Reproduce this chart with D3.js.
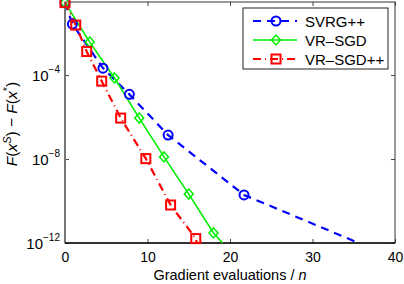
<!DOCTYPE html>
<html>
<head>
<meta charset="utf-8">
<script src="https://cdn.jsdelivr.net/npm/d3@7"></script>
<style>
  body { margin: 0; background: #fff; }
  svg { display: block; font-family: "Liberation Sans", Arial, sans-serif; }
</style>
</head>
<body>
<svg id="chart" width="404" height="284"></svg>
<script>
// gradient evaluations / n and log10 of F(x^s) - F(x*)
var svrgX = [0, 0.9, 4.6, 7.8, 12.5, 21.7, 35.6];
var svrgY = [-0.55, -1.57, -3.67, -4.92, -6.86, -9.71, -12];
var svrgMarks = [0, 1, 2, 3, 4, 5];

var vrsgdX = [0, 3, 6, 9, 12, 15, 18, 19.1];
var vrsgdY = [-0.55, -2.43, -4.14, -6.05, -7.9, -9.67, -11.52, -12];
var vrsgdMarks = [0, 1, 2, 3, 4, 5, 6];

var vrppX = [0, 1.3, 2.63, 4.45, 6.75, 9.8, 12.8, 15.85, 16.0];
var vrppY = [-0.55, -1.62, -2.88, -4.29, -6.05, -7.98, -10.19, -11.79, -12];
var vrppMarks = [0, 1, 2, 3, 4, 5, 6, 7];

var xTicks = [0, 10, 20, 30, 40];
var yTicks = [-12, -8, -4];
var legendNames = ["SVRG++", "VR\u2013SGD", "VR\u2013SGD++"];

var svg = d3.select("#chart");
var margin = {top: 2, right: 9, bottom: 41, left: 65};
var width = 404 - margin.left - margin.right,
    height = 284 - margin.top - margin.bottom;

var x = d3.scaleLinear().domain([0, 40]).range([0, width]);
var y = d3.scaleLinear().domain([-12, -0.52]).range([height, 0]);

var g = svg.append("g")
    .attr("transform", "translate(" + margin.left + "," + margin.top + ")");

// clip to plot area
svg.append("defs").append("clipPath").attr("id", "clip")
  .append("rect").attr("width", width).attr("height", height);

// axes (ticks inward, matlab style)
var xAxis = g.append("g")
    .attr("transform", "translate(0," + height + ")")
    .call(d3.axisBottom(x).tickValues(xTicks).tickSize(-4).tickPadding(9));
xAxis.select(".domain").remove();
xAxis.selectAll("text").style("font-size", "14px").attr("fill", "#000");
xAxis.selectAll("line").attr("stroke", "#444");

var xTop = g.append("g")
    .call(d3.axisTop(x).tickValues(xTicks).tickSize(-4).tickFormat(""));
xTop.select(".domain").remove();
xTop.selectAll("line").attr("stroke", "#444");

var yAxis = g.append("g")
    .call(d3.axisLeft(y).tickValues(yTicks).tickSize(-4).tickPadding(5).tickFormat(""));
yAxis.select(".domain").remove();
yAxis.selectAll("line").attr("stroke", "#444");

var yRight = g.append("g")
    .attr("transform", "translate(" + width + ",0)")
    .call(d3.axisRight(y).tickValues(yTicks).tickSize(-4).tickFormat(""));
yRight.select(".domain").remove();
yRight.selectAll("line").attr("stroke", "#444");

// y tick labels 10^k
yTicks.forEach(function(t) {
    var txt = g.append("text")
        .attr("x", -5)
        .attr("y", y(t) + 6)
        .attr("text-anchor", "end")
        .style("font-size", "15px");
    txt.append("tspan").text("10");
    txt.append("tspan").attr("dy", -8).style("font-size", "10px").text("\u2212" + (-t));
});

// frame
g.append("rect")
    .attr("width", width).attr("height", height)
    .attr("fill", "none").attr("stroke", "#333").attr("stroke-width", 1);
g.append("line").attr("x1", 0).attr("x2", 0).attr("y1", 0).attr("y2", height)
    .attr("stroke", "#777").attr("stroke-width", 2);
g.append("line").attr("x1", 0).attr("x2", width).attr("y1", height).attr("y2", height)
    .attr("stroke", "#111").attr("stroke-width", 1.3);

// series
var series = [
    {xs: svrgX, ys: svrgY, marks: svrgMarks, color: "#0000ff", dash: "8,6", w: 2.2, marker: "circle"},
    {xs: vrsgdX, ys: vrsgdY, marks: vrsgdMarks, color: "#00ee00", dash: null, w: 1.6, marker: "diamond"},
    {xs: vrppX, ys: vrppY, marks: vrppMarks, color: "#ff0000", dash: "8,4,1,4", w: 2.2, marker: "square"}
];

var line = d3.line().x(function(d) { return x(d[0]); }).y(function(d) { return y(d[1]); });
var plot = g.append("g").attr("clip-path", "url(#clip)");

function drawMarker(sel, type, cx, cy, color) {
    if (type === "circle") {
        sel.append("circle").attr("cx", cx).attr("cy", cy).attr("r", 4.5)
            .attr("fill", "none").attr("stroke", color).attr("stroke-width", 2);
    } else if (type === "square") {
        sel.append("rect").attr("x", cx - 4.5).attr("y", cy - 4.5)
            .attr("width", 9).attr("height", 9)
            .attr("fill", "none").attr("stroke", color).attr("stroke-width", 2);
    } else {
        sel.append("path")
            .attr("d", "M" + cx + "," + (cy - 5) + "L" + (cx + 4.5) + "," + cy +
                "L" + cx + "," + (cy + 5) + "L" + (cx - 4.5) + "," + cy + "Z")
            .attr("fill", "none").attr("stroke", color).attr("stroke-width", 1.5);
    }
}

series.forEach(function(s) {
    var pts = s.xs.map(function(v, i) { return [v, s.ys[i]]; });
    plot.append("path")
        .attr("d", line(pts))
        .attr("fill", "none")
        .attr("stroke", s.color)
        .attr("stroke-width", s.w)
        .attr("stroke-dasharray", s.dash);
});
series.forEach(function(s) {
    s.marks.forEach(function(i) {
        drawMarker(g, s.marker, x(s.xs[i]), y(s.ys[i]), s.color);
    });
});

// legend
var lg = g.append("g").attr("transform", "translate(178,6)");
lg.append("rect").attr("width", 145).attr("height", 61)
    .attr("fill", "#fff").attr("stroke", "#222").attr("stroke-width", 1);
series.forEach(function(s, i) {
    var ly = 13 + i * 19;
    lg.append("line").attr("x1", 10).attr("x2", 54).attr("y1", ly).attr("y2", ly)
        .attr("stroke", s.color).attr("stroke-width", s.w)
        .attr("stroke-dasharray", s.dash);
    drawMarker(lg, s.marker, 33, ly, s.color);
    lg.append("text").attr("x", 62).attr("y", ly + 5.5)
        .style("font-size", "15px").text(legendNames[i]);
});

// axis labels
var xl = svg.append("text")
    .attr("x", margin.left + width / 2).attr("y", 280)
    .attr("text-anchor", "middle").style("font-size", "14.5px");
xl.append("tspan").text("Gradient evaluations / ");
xl.append("tspan").style("font-style", "italic").text("n");

var yl = svg.append("text")
    .attr("transform", "translate(17," + (margin.top + 122) + ") rotate(-90)")
    .attr("text-anchor", "middle").style("font-size", "15.5px");
yl.append("tspan").style("font-style", "italic").text("F");
yl.append("tspan").text("(");
yl.append("tspan").style("font-style", "italic").text("x");
yl.append("tspan").attr("dy", -6).style("font-size", "11px").style("font-style", "italic").text("S");
yl.append("tspan").attr("dy", 6).text(") \u2212 ");
yl.append("tspan").style("font-style", "italic").text("F");
yl.append("tspan").text("(");
yl.append("tspan").style("font-style", "italic").text("x");
yl.append("tspan").attr("dy", -6).style("font-size", "11px").text("*");
yl.append("tspan").attr("dy", 6).text(")");
</script>
</body>
</html>
